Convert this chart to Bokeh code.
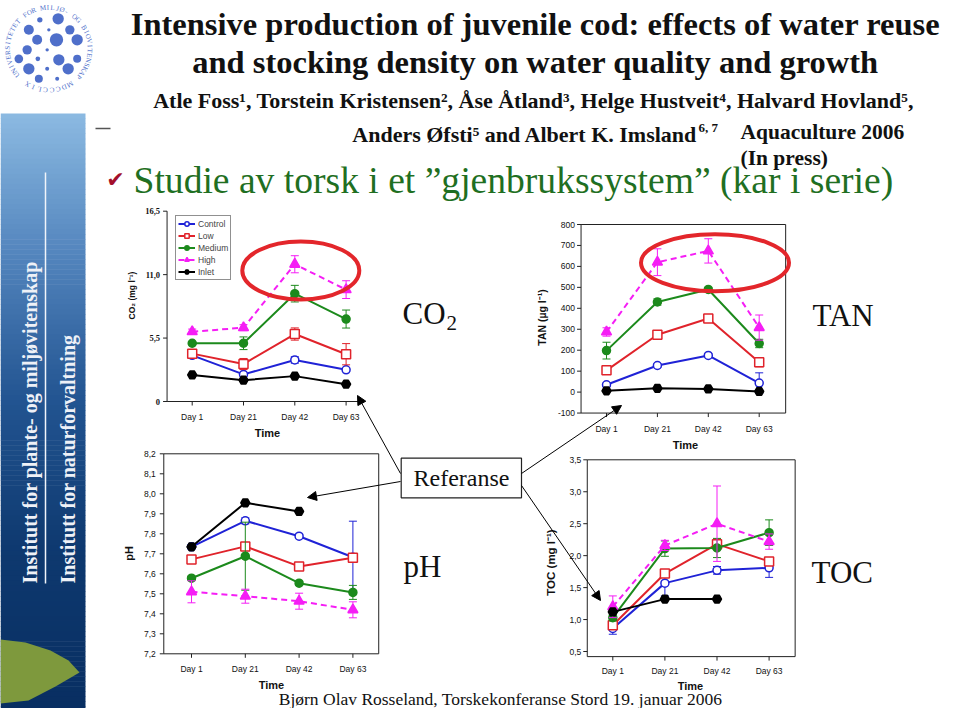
import math
import numpy as np
from bokeh.plotting import figure
from bokeh.models import Range1d, Arrow, NormalHead, Legend, LegendItem
from bokeh.core.properties import value
from bokeh.embed import file_html
from bokeh.resources import INLINE

# ------------------------------------------------------------------ data
days = ["Day 1", "Day 21", "Day 42", "Day 63"]
series_names = ["Control", "Low", "Medium", "High", "Inlet"]

# CO2 (mg/l)
co2_control = [4.0, 2.35, 3.6, 2.75]
co2_control_err = [0.12, 0.12, 0.28, 0.15]
co2_low = [4.15, 3.25, 5.85, 4.1]
co2_low_err = [0.2, 0.48, 0.53, 0.92]
co2_medium = [5.05, 5.05, 9.35, 7.15]
co2_medium_err = [0.1, 0.55, 0.72, 0.78]
co2_high = [6.05, 6.4, 11.9, 9.7]
co2_high_err = [0.23, 0.26, 0.74, 0.77]
co2_inlet = [2.3, 1.85, 2.2, 1.5]
co2_inlet_err = [0.08, 0.08, 0.08, 0.08]
co2_ticks = [0, 5.5, 11.0, 16.5]
co2_tick_labels = ["0", "5,5", "11,0", "16,5"]

# TAN (ug/l)
tan_control = [35, 127, 175, 43]
tan_control_err = [8, 8, 8, 49]
tan_low = [104, 274, 351, 143]
tan_low_err = [8, 18, 10, 22]
tan_medium = [198, 430, 490, 232]
tan_medium_err = [40, 15, 10, 20]
tan_high = [287, 620, 674, 308]
tan_high_err = [20, 64, 58, 60]
tan_inlet = [6, 18, 15, 3]
tan_inlet_err = [3, 3, 3, 3]
tan_ticks = [-100, 0, 100, 200, 300, 400, 500, 600, 700, 800]
tan_tick_labels = ["-100", "0", "100", "200", "300", "400", "500", "600", "700", "800"]

# pH
ph_control = [7.735, 7.865, 7.788, 7.683]
ph_control_err = [0.01, 0.015, 0.01, 0.18]
ph_low = [7.672, 7.737, 7.637, 7.68]
ph_low_err = [0.01, 0.012, 0.01, 0.02]
ph_medium = [7.578, 7.688, 7.553, 7.507]
ph_medium_err = [0.01, 0.17, 0.01, 0.035]
ph_high = [7.51, 7.488, 7.463, 7.42]
ph_high_err = [0.055, 0.035, 0.04, 0.04]
ph_inlet = [7.735, 7.955, 7.912, None]
ph_inlet_err = [0.0, 0.0, 0.0, None]
ph_ticks = [7.2, 7.3, 7.4, 7.5, 7.6, 7.7, 7.8, 7.9, 8.0, 8.1, 8.2]
ph_tick_labels = ["7,2", "7,3", "7,4", "7,5", "7,6", "7,7", "7,8", "7,9", "8,0", "8,1", "8,2"]

# TOC (mg/l)
toc_control = [0.86, 1.57, 1.77, 1.81]
toc_control_err = [0.09, 0.2, 0.06, 0.15]
toc_low = [0.91, 1.72, 2.18, 1.91]
toc_low_err = [0.05, 0.06, 0.08, 0.03]
toc_medium = [1.03, 2.11, 2.12, 2.36]
toc_medium_err = [0.05, 0.12, 0.15, 0.2]
toc_high = [1.2, 2.16, 2.5, 2.22]
toc_high_err = [0.17, 0.08, 0.59, 0.12]
toc_inlet = [1.12, 1.32, 1.32, None]
toc_inlet_err = [0.0, 0.0, 0.0, None]
toc_ticks = [0.5, 1.0, 1.5, 2.0, 2.5, 3.0, 3.5]
toc_tick_labels = ["0,5", "1,0", "1,5", "2,0", "2,5", "3,0", "3,5"]

# ------------------------------------------------------------------ styles
SERIF = value("Liberation Serif")
SANS = value("Liberation Sans")
DEJAVU = value("DejaVu Sans")
RED = "#e3262b"

styles = {
    "Control": dict(color="#1f22d6", marker="circle", fill="white", size=8, dash="solid"),
    "Low": dict(color="#e0232b", marker="square", fill="white", size=9, dash="solid"),
    "Medium": dict(color="#1c8a1c", marker="circle", fill="#1c8a1c", size=8, dash="solid"),
    "High": dict(color="#f51ef5", marker="triangle", fill="#f51ef5", size=10, dash="6 4"),
    "Inlet": dict(color="#000000", marker="hex", fill="#000000", size=9, dash="solid"),
}

charts = {
    "co2": dict(mean=[co2_control, co2_low, co2_medium, co2_high, co2_inlet],
                err=[co2_control_err, co2_low_err, co2_medium_err, co2_high_err, co2_inlet_err],
                ticks=co2_ticks, tick_labels=co2_tick_labels, ylabel="CO\u2082 (mg l\u207b\u00b9)"),
    "tan": dict(mean=[tan_control, tan_low, tan_medium, tan_high, tan_inlet],
                err=[tan_control_err, tan_low_err, tan_medium_err, tan_high_err, tan_inlet_err],
                ticks=tan_ticks, tick_labels=tan_tick_labels, ylabel="TAN (\u00b5g l\u207b\u00b9)"),
    "ph": dict(mean=[ph_control, ph_low, ph_medium, ph_high, ph_inlet],
               err=[ph_control_err, ph_low_err, ph_medium_err, ph_high_err, ph_inlet_err],
               ticks=ph_ticks, tick_labels=ph_tick_labels, ylabel="pH"),
    "toc": dict(mean=[toc_control, toc_low, toc_medium, toc_high, toc_inlet],
                err=[toc_control_err, toc_low_err, toc_medium_err, toc_high_err, toc_inlet_err],
                ticks=toc_ticks, tick_labels=toc_tick_labels, ylabel="TOC (mg l\u207b\u00b9)"),
}

# placement of each chart on the slide (slide pixels): x of Day 1, px per day,
# and two value/pixel pairs for the value axis
cal = {
    "co2": dict(x0=191.7, dx=51.3, va=0.0, pa=401.0, vb=16.5, pb=210.7),
    "tan": dict(x0=606.0, dx=50.9, va=0.0, pa=391.6, vb=800.0, pb=224.0),
    "ph": dict(x0=191.0, dx=53.8, va=7.2, pa=653.3, vb=8.2, pb=453.3),
    "toc": dict(x0=612.3, dx=52.1, va=0.5, pa=651.0, vb=3.5, pb=459.3),
}
look = {
    "co2": dict(frame=(-0.49, 3.31, 0.0, 16.5), box=False, tfont=SERIF, tstyle="bold", tsize="8.5px",
                lab_off=7, day_py=416, time=(267, 432), ylab=(131, 295), ylab_size="8.5px"),
    "tan": dict(frame=(-0.5, 3.52, -100.0, 800.0), box=True, tfont=SANS, tstyle="normal", tsize="8.5px",
                lab_off=6, day_py=428, time=(685, 444), ylab=(541, 317), ylab_size="10.5px"),
    "ph": dict(frame=(-0.515, 3.48, 7.2, 8.2), box=True, tfont=SANS, tstyle="normal", tsize="8.5px",
               lab_off=8, day_py=668, time=(271, 684), ylab=(128, 553), ylab_size="11px"),
    "toc": dict(frame=(-0.49, 3.5, 0.42, 3.5), box=True, tfont=SANS, tstyle="normal", tsize="8.5px",
                lab_off=6, day_py=670, time=(690, 685), ylab=(550, 562), ylab_size="11.5px"),
}

FW, FH = 944, 708


def px2x(c, px):
    return (px - c["x0"]) / c["dx"]


def py2v(c, py):
    return c["va"] + (py - c["pa"]) * (c["vb"] - c["va"]) / (c["pb"] - c["pa"])


# ------------------------------------------------------------------ figure (slide canvas)
p = figure(width=FW, height=FH, x_range=Range1d(0, FW), y_range=Range1d(FH, 0),
           output_backend="svg", toolbar_location=None, x_axis_type=None, y_axis_type=None,
           min_border=0)
p.outline_line_color = None
p.background_fill_color = "white"
p.border_fill_color = "white"

p.extra_x_ranges = {k + "x": Range1d(px2x(c, 0), px2x(c, FW)) for k, c in cal.items()}
p.extra_y_ranges = {k + "y": Range1d(py2v(c, FH), py2v(c, 0)) for k, c in cal.items()}

# ---- left sidebar with gradient
stops_y = [113, 250, 400, 550, 716]
stops_c = [(140, 186, 226), (84, 134, 190), (34, 84, 145), (14, 57, 111), (8, 46, 97)]
edges = np.linspace(113, 716, 121)
cols = []
for a, b in zip(edges[:-1], edges[1:]):
    m = 0.5 * (a + b)
    rgb = [int(round(np.interp(m, stops_y, [s[i] for s in stops_c]))) for i in range(3)]
    cols.append("#%02x%02x%02x" % tuple(rgb))
p.quad(left=0, right=85, top=edges[:-1], bottom=edges[1:] + 0.5, fill_color=cols, line_color=None)
p.segment(x0=[45], y0=[172], x1=[45], y1=[583], line_color="#f0f4fa", line_width=1.5)
p.patch(x=[0, 25, 50, 68, 79, 55, 28, 0], y=[639, 642, 650, 660, 672, 686, 700, 703],
        fill_color="#7e993d", line_color=None)
p.text(x=[29, 67], y=[583, 583],
       text=["Institutt for plante- og milj\u00f8vitenskap", "Institutt for naturforvaltning"],
       angle=math.pi / 2, text_align="left", text_baseline="middle",
       text_font=SERIF, text_font_style="bold", text_font_size="20px", text_color="#eef1f7")

# ---- logo
dots = [(85, 88, 15), (118, 58, 8), (173, 55, 17), (208, 88, 14), (145, 88, 5), (110, 118, 15),
        (168, 118, 20), (230, 118, 17), (80, 148, 14), (140, 148, 5), (55, 175, 13), (112, 175, 7),
        (175, 178, 17), (230, 175, 12), (85, 205, 17), (140, 205, 6), (203, 205, 17), (115, 235, 12),
        (170, 235, 6)]
p.scatter(x=[d[0] / 3 for d in dots], y=[d[1] / 3 for d in dots], size=[2 * d[2] / 3 for d in dots],
          marker="circle", fill_color="#4f6fca", line_color=None)
cx, cy, R = 48.3, 48.3, 41.0
ring1 = "UNIVERSITETET FOR MILJ\u00d8- OG BIOVITENSKAP"
ring2 = "MDCCCLIX"
chars, rx, ry, ra = [], [], [], []
for txt, t0, t1 in [(ring1, 219.0, -43.0), (ring2, -59.0, -121.0)]:
    n = len(txt)
    for i, chh in enumerate(txt):
        th = math.radians(t0 + (t1 - t0) * i / (n - 1))
        chars.append(chh)
        rx.append(cx + R * math.cos(th))
        ry.append(cy - R * math.sin(th))
        ra.append(th - math.pi / 2)
p.text(x=rx, y=ry, text=chars, angle=ra, text_align="center", text_baseline="middle",
       text_font=SERIF, text_font_size="7px", text_color="#4f6fca")

# ---- header texts
p.text(x=[535, 535], y=[23, 61],
       text=["Intensive production of juvenile cod: effects of water reuse",
             "and stocking density on water quality and growth"],
       text_align="center", text_baseline="middle", text_font=SERIF, text_font_style="bold",
       text_font_size="32.5px", text_color="#111111")
p.text(x=[533], y=[100],
       text=["Atle Foss\u00b9, Torstein Kristensen\u00b2, \u00c5se \u00c5tland\u00b3, Helge Hustveit\u2074, Halvard Hovland\u2075,"],
       text_align="center", text_baseline="middle", text_font=SERIF, text_font_style="bold",
       text_font_size="22px", text_color="#111111")
p.text(x=[697], y=[134], text=["Anders \u00d8fsti\u2075 and Albert K. Imsland"],
       text_align="right", text_baseline="middle", text_font=SERIF, text_font_style="bold",
       text_font_size="22px", text_color="#111111")
p.text(x=[698], y=[127], text=["6, 7"], text_align="left", text_baseline="middle", text_font=SERIF,
       text_font_style="bold", text_font_size="13px", text_color="#111111")
p.text(x=[740, 740], y=[131, 157], text=["Aquaculture 2006", "(In press)"],
       text_align="left", text_baseline="middle", text_font=SERIF, text_font_style="bold",
       text_font_size="21.5px", text_color="#111111")
p.segment(x0=[95], y0=[128], x1=[110], y1=[128], line_color="#555555", line_width=1.5)
p.text(x=[115], y=[179], text=["\u2714"], text_align="center", text_baseline="middle",
       text_font=DEJAVU, text_font_size="22px", text_color="#a3102c")
p.text(x=[133], y=[180], text=["Studie av torsk i et \u201dgjenbrukssystem\u201d (kar i serie)"],
       text_align="left", text_baseline="middle", text_font=SERIF, text_font_size="37.6px",
       text_color="#1f6f22")
p.text(x=[500], y=[698], text=["Bj\u00f8rn Olav Rosseland, Torskekonferanse Stord 19. januar 2006"],
       text_align="center", text_baseline="middle", text_font=SERIF, text_font_size="17.5px",
       text_color="#111111")

# ---- charts
legend_items = {}
idx = np.arange(len(days), dtype=float)
for key in ["co2", "tan", "ph", "toc"]:
    c, lk, ch = cal[key], look[key], charts[key]
    kw = dict(x_range_name=key + "x", y_range_name=key + "y")
    L, Rr, B, T = lk["frame"]
    vpp = (c["vb"] - c["va"]) / (c["pa"] - c["pb"])  # value per pixel
    ax = "#222222"
    p.segment(x0=[L, L], y0=[B, B], x1=[L, Rr], y1=[T, B], line_color=ax, line_width=1, **kw)
    if lk["box"]:
        p.segment(x0=[L, Rr], y0=[T, B], x1=[Rr, Rr], y1=[T, T], line_color=ax, line_width=1, **kw)
    nt = len(ch["ticks"])
    p.segment(x0=[L - 4 / c["dx"]] * nt, y0=ch["ticks"], x1=[L] * nt, y1=ch["ticks"],
              line_color=ax, line_width=1, **kw)
    p.segment(x0=idx, y0=[B] * len(idx), x1=idx, y1=[B - 4 * vpp] * len(idx),
              line_color=ax, line_width=1, **kw)
    p.text(x=[L - lk["lab_off"] / c["dx"]] * nt, y=ch["ticks"], text=ch["tick_labels"],
           text_align="right", text_baseline="middle", text_font=lk["tfont"],
           text_font_style=lk["tstyle"], text_font_size=lk["tsize"], text_color="#111111", **kw)
    p.text(x=idx, y=[py2v(c, lk["day_py"])] * len(idx), text=days, text_align="center",
           text_baseline="middle", text_font=SANS, text_font_size="8.5px", text_color="#111111", **kw)
    p.text(x=[px2x(c, lk["time"][0])], y=[py2v(c, lk["time"][1])], text=["Time"],
           text_align="center", text_baseline="middle", text_font=SANS, text_font_style="bold",
           text_font_size="11px", text_color="#111111", **kw)
    p.text(x=[px2x(c, lk["ylab"][0])], y=[py2v(c, lk["ylab"][1])], text=[ch["ylabel"]],
           angle=math.pi / 2, text_align="center", text_baseline="middle", text_font=SANS,
           text_font_style="bold", text_font_size=lk["ylab_size"], text_color="#111111", **kw)

    for name, mean, err in zip(series_names, ch["mean"], ch["err"]):
        st = styles[name]
        m = np.array(mean, dtype=float)
        e = np.array(err, dtype=float)
        p.segment(x0=idx, y0=m - e, x1=idx, y1=m + e, line_color=st["color"], line_width=1, **kw)
        p.scatter(x=np.concatenate([idx, idx]), y=np.concatenate([m - e, m + e]), marker="dash",
                  size=8, line_color=st["color"], line_width=1, **kw)
        lr = p.line(x=idx, y=m, line_color=st["color"], line_width=2, line_dash=st["dash"], **kw)
        sr = p.scatter(x=idx, y=m, marker=st["marker"], size=st["size"], fill_color=st["fill"],
                       line_color=st["color"], line_width=1.5, **kw)
        if key == "co2":
            legend_items[name] = [lr, sr]

legend = Legend(items=[LegendItem(label=n, renderers=legend_items[n]) for n in series_names],
                location=(175, FH - 280), margin=0, padding=2, spacing=1, glyph_width=17,
                glyph_height=11, label_height=11, label_standoff=3, label_text_font="Liberation Sans",
                label_text_font_size="8.5px",
                border_line_color="#222222", border_line_width=1, background_fill_color="white",
                background_fill_alpha=1.0)
p.add_layout(legend)

# ---- highlight ellipses
p.ellipse(x=[300.3, 714.5], y=[270, 262.2], width=[117, 148], height=[58, 57],
          width_units="screen", height_units="screen", fill_color=None, line_color=RED, line_width=4)

# ---- middle labels
p.text(x=[402], y=[313], text=["CO"], text_align="left", text_baseline="middle", text_font=SERIF,
       text_font_size="31px", text_color="#111111")
p.text(x=[446], y=[322], text=["2"], text_align="left", text_baseline="middle", text_font=SERIF,
       text_font_size="21px", text_color="#111111")
p.text(x=[812, 403, 811], y=[315, 566, 572], text=["TAN", "pH", "TOC"], text_align="left",
       text_baseline="middle", text_font=SERIF, text_font_size="31px", text_color="#111111")
p.quad(left=[400.7], right=[521], top=[457.7], bottom=[497.3], fill_color="white",
       line_color="#222222", line_width=1.2)
p.text(x=[461], y=[477], text=["Referanse"], text_align="center", text_baseline="middle",
       text_font=SERIF, text_font_size="24px", text_color="#111111")

for xs, ys, xe, ye in [(400, 473, 357, 395), (400, 481, 307, 497), (521, 473, 621, 405), (521, 485, 600, 600)]:
    p.add_layout(Arrow(x_start=xs, y_start=ys, x_end=xe, y_end=ye, line_color="black", line_width=1,
                       end=NormalHead(size=9, fill_color="black", line_color="black")))

open("out.html", "w").write(file_html(p, INLINE))
